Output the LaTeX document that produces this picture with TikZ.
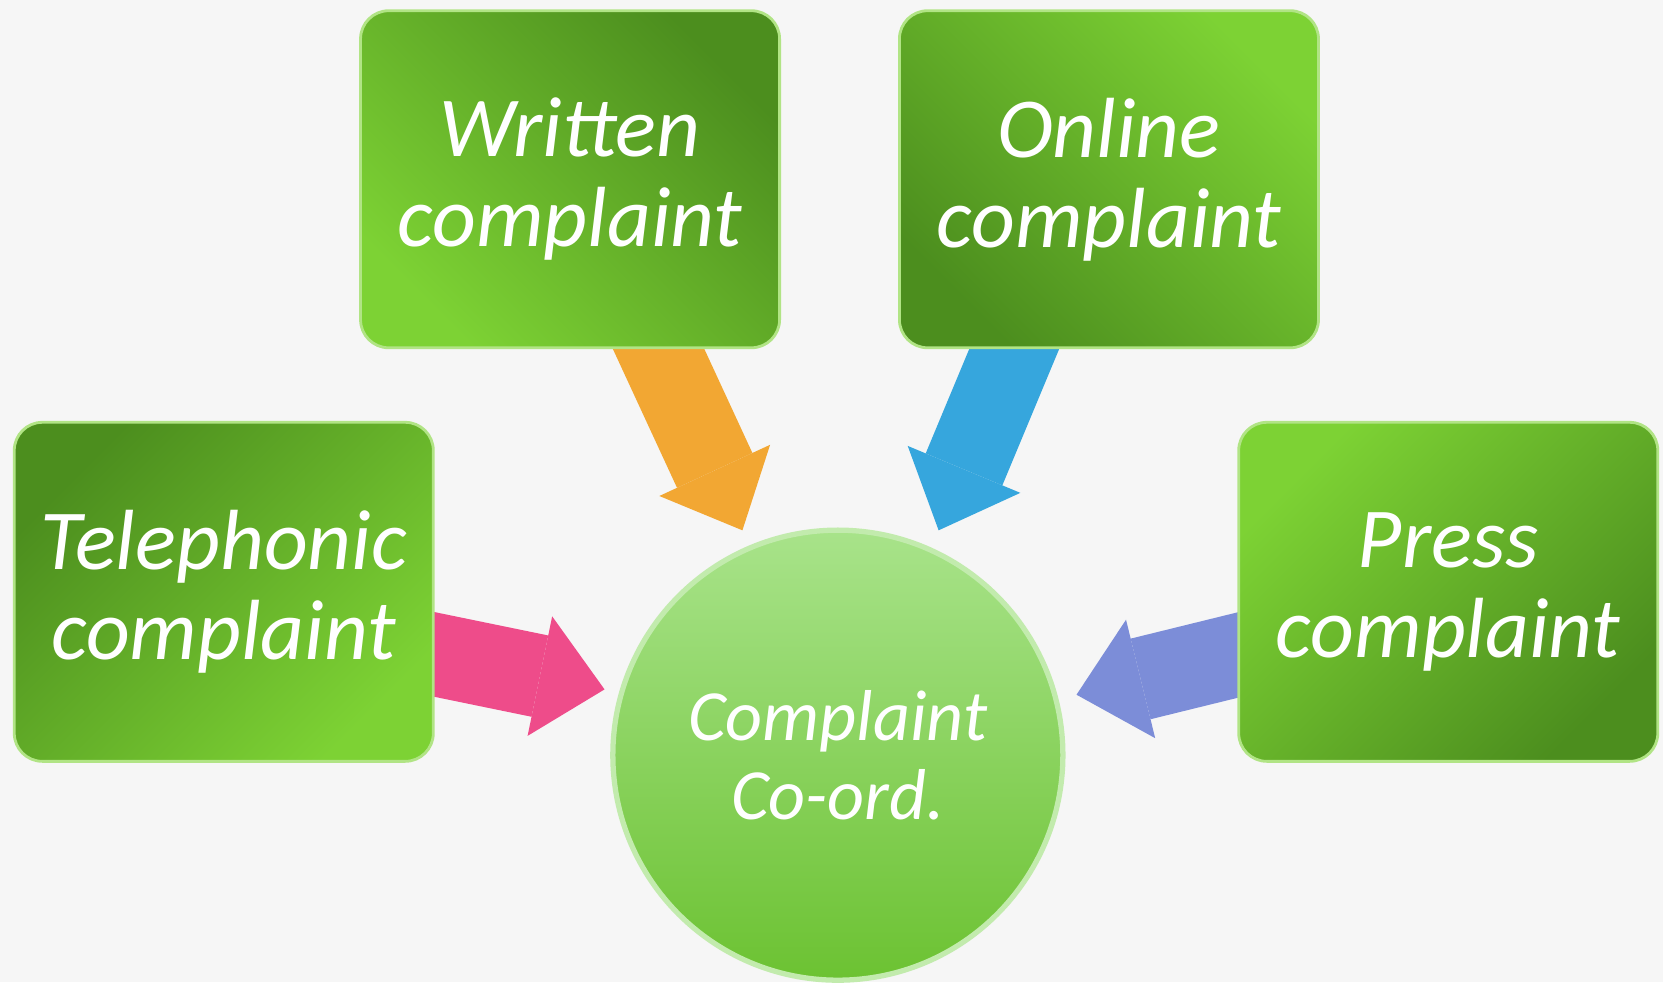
\documentclass[tikz,border=0pt]{standalone}
\usepackage{fontspec}
\setmainfont{Carlito}
\usepackage{tikz}
\usetikzlibrary{arrows.meta,backgrounds,positioning,calc}

\definecolor{boxdark}{HTML}{4C8E1E}
\definecolor{boxlight}{HTML}{7DD234}
\definecolor{ringtop}{HTML}{A8E38A}
\definecolor{ringbot}{HTML}{6CC232}
\definecolor{pageback}{HTML}{F6F6F6}
\definecolor{arrorange}{HTML}{F2A733}
\definecolor{arrblue}{HTML}{36A6DD}
\definecolor{arrpink}{HTML}{EE4C8A}
\definecolor{arrpurple}{HTML}{7C8DD8}

\begin{document}
\begin{tikzpicture}[x=0.010606cm,y=-0.010606cm,  %pixel units, y going down
		box/.style={rectangle,rounded corners=8pt,draw=boxlight!60!white,line width=0.8pt,
			minimum width=4.19cm,minimum height=3.37cm,inner sep=0pt,align=center,
			text=white,font=\fontsize{24.3}{25.6}\selectfont\itshape},
		hub/.style={circle,draw=ringtop!70!white,line width=1.5pt,minimum size=4.5cm,
			top color=ringtop,bottom color=ringbot,inner sep=0pt,align=center,
			text=white,font=\fontsize{20.5}{22.3}\selectfont\itshape},
		feed/.style={line width=0.83cm,-{Triangle[width=1.22cm,length=0.66cm,line width=0pt]}}
	]

	\useasboundingbox (0,0) rectangle (1568,926);

	\node[box,top color=boxdark,bottom color=boxlight,shading angle=-45] (written) at (537.5,169) {Written\\complaint};
	\node[box,top color=boxlight,bottom color=boxdark,shading angle=-45] (online) [right=1.17cm of written] {Online\\complaint};
	\node[box,top color=boxdark,bottom color=boxlight,shading angle=45,minimum height=3.39cm] (phone) at (211,558) {Telephonic\\complaint};
	\node[box,top color=boxlight,bottom color=boxdark,shading angle=45,minimum height=3.39cm] (press) at (1365.5,558) {Press\\complaint};
	\node[hub] (coord) at (790,712) {Complaint\\Co-ord.};

	\begin{scope}[on background layer]
		\fill[pageback] (0,0) rectangle (1568,926);
		\draw[feed,arrorange] ($(written.south)+(72,-25)$) -- ($(coord.center)+(-90,-212)$);
		\draw[feed,arrblue] ($(online.south)+(-79,-25)$) -- ($(coord.center)+(95,-212)$);
		\draw[feed,arrpink] ($(phone.east)+(-15,56)$) -- ($(coord.center)+(-220,-62)$);
		\draw[feed,arrpurple] ($(press.west)+(15,56)$) -- ($(coord.center)+(225,-57)$);
	\end{scope}

\end{tikzpicture}
\end{document}
